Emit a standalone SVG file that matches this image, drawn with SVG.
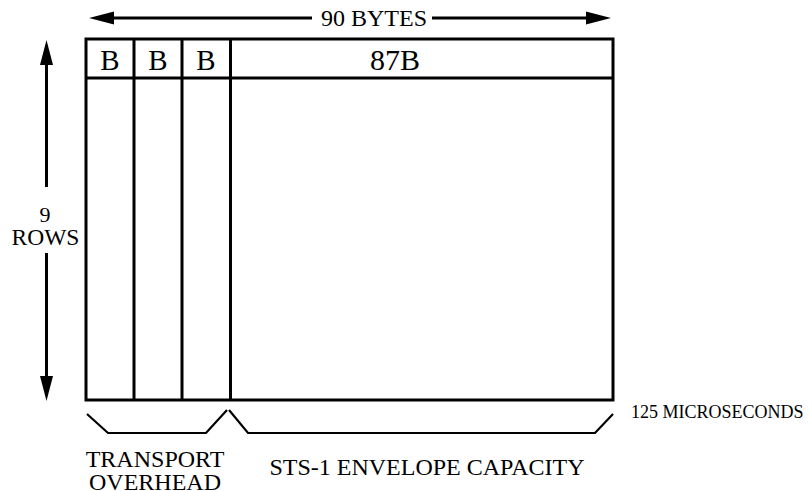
<svg xmlns="http://www.w3.org/2000/svg" width="812" height="491" viewBox="0 0 812 491">
<style>
.t{font-family:"Liberation Serif","Times New Roman",serif;fill:#000}
.ln{stroke:#000;stroke-width:3;fill:none}
.br{stroke:#000;stroke-width:2.2;fill:none;stroke-linejoin:miter}
.ah{fill:#000;stroke:none}
</style>
<rect width="812" height="491" fill="#fff"/>
<g id="frame">
<rect x="86" y="39" width="527" height="361" class="ln"/>
<line x1="86" y1="78" x2="613" y2="78" class="ln"/>
<line x1="134" y1="39" x2="134" y2="400" class="ln"/>
<line x1="182" y1="39" x2="182" y2="400" class="ln"/>
<line x1="230.5" y1="39" x2="230.5" y2="400" class="ln"/>
</g>
<g id="header">
<text class="t" x="110" y="70" font-size="29" text-anchor="middle">B</text>
<text class="t" x="158" y="70" font-size="29" text-anchor="middle">B</text>
<text class="t" x="206" y="70" font-size="29" text-anchor="middle">B</text>
<text class="t" x="395" y="69.5" font-size="30" text-anchor="middle">87B</text>
</g>
<g id="connectors">
<line x1="110" y1="18" x2="312" y2="18" class="ln"/>
<line x1="432" y1="18" x2="590" y2="18" class="ln"/>
<polygon class="ah" points="89,18 114,11.5 114,24.5"/>
<polygon class="ah" points="611,18 586,11.5 586,24.5"/>
<line x1="46.5" y1="62" x2="46.5" y2="187" class="ln"/>
<line x1="46.5" y1="253" x2="46.5" y2="378" class="ln"/>
<polygon class="ah" points="46.5,40 40,65 53,65"/>
<polygon class="ah" points="46.5,401 40,376 53,376"/>
<polyline class="br" points="87,414 108,433 206,433 227,410"/>
<polyline class="br" points="229,410 248,433 595,433 613,414"/>
</g>
<g id="labels">
<text class="t" x="374" y="26" font-size="24" text-anchor="middle">90 BYTES</text>
<text class="t" x="45" y="222" font-size="22" text-anchor="middle">9</text>
<text class="t" x="45.5" y="245" font-size="23.5" text-anchor="middle">ROWS</text>
<text class="t" x="631" y="418" font-size="18">125 MICROSECONDS</text>
<text class="t" x="155" y="467" font-size="24" text-anchor="middle">TRANSPORT</text>
<text class="t" x="155" y="489.5" font-size="24" text-anchor="middle">OVERHEAD</text>
<text class="t" x="427" y="475" font-size="24" text-anchor="middle">STS-1 ENVELOPE CAPACITY</text>
</g>
</svg>
